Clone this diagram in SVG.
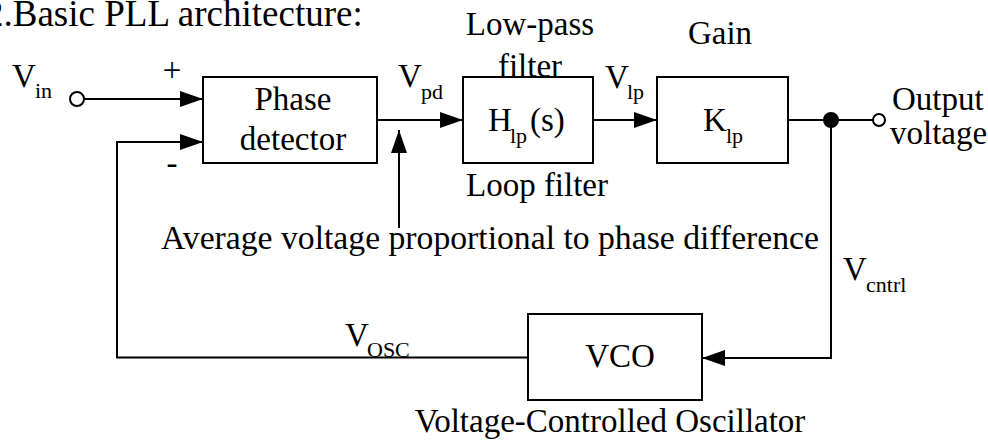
<svg xmlns="http://www.w3.org/2000/svg" width="988" height="442" viewBox="0 0 988 442">
<defs>
<style>
text{font-family:"Liberation Serif","Times New Roman",serif;fill:#000;}
.t{font-size:33px;}
.s{font-size:22px;}
.title{font-size:37px;}
.box{fill:#fff;stroke:#000;stroke-width:2;}
.wire{fill:none;stroke:#000;stroke-width:2;}
.mid{text-anchor:middle;}
</style>
<marker id="arr" markerUnits="userSpaceOnUse" markerWidth="24" markerHeight="16" refX="23" refY="8" orient="auto">
<path d="M0,0 L23,8 L0,16 Z" fill="#000"/>
</marker>
</defs>
<rect x="0" y="0" width="988" height="442" fill="#fff"/>
<g font-family="Liberation Serif, serif">
<text class="title" x="-15" y="26">2.Basic PLL architecture:</text>

<g id="connectors">
<line class="wire" x1="84" y1="99" x2="203" y2="99" marker-end="url(#arr)"/>
<path class="wire" d="M528,357.5 L117,357.5 L117,142 L203,142" marker-end="url(#arr)"/>
<line class="wire" x1="377" y1="120" x2="463" y2="120" marker-end="url(#arr)"/>
<line class="wire" x1="399" y1="228" x2="399" y2="130" marker-end="url(#arr)"/>
<line class="wire" x1="593" y1="120" x2="657" y2="120" marker-end="url(#arr)"/>
<line class="wire" x1="788" y1="120" x2="873" y2="120"/>
<path class="wire" d="M831,120 L831,358 L702,358" marker-end="url(#arr)"/>
<circle cx="831" cy="120" r="8" fill="#000"/>
</g>

<g id="input">
<circle cx="77" cy="99" r="7" fill="#fff" stroke="#000" stroke-width="2"/>
<text class="t" x="12" y="87">V</text><text class="s" x="35" y="98">in</text>
<text class="t mid" x="172" y="81">+</text>
<text class="t mid" x="172" y="174">-</text>
</g>

<g id="phase-detector">
<rect class="box" x="203" y="77" width="174" height="86"/>
<text class="t mid" x="293" y="110">Phase</text>
<text class="t mid" x="293" y="150">detector</text>
</g>

<g id="vpd-label">
<text class="t" x="398" y="87">V</text><text class="s" x="421" y="99">pd</text>
</g>

<g id="avg-label">
<text class="t" x="161" y="249" textLength="658" lengthAdjust="spacingAndGlyphs">Average voltage proportional to phase difference</text>
</g>

<g id="loop-filter">
<rect class="box" x="463" y="77" width="130" height="86"/>
<text class="t mid" x="530" y="35">Low-pass</text>
<text class="t mid" x="530" y="77">filter</text>
<text class="t" x="488" y="131">H</text><text class="s" x="510" y="143">lp</text><text class="t" x="530" y="131">(s)</text>
<text class="t mid" x="537" y="196">Loop filter</text>
</g>

<g id="vlp-label">
<text class="t" x="605" y="88">V</text><text class="s" x="627" y="99">lp</text>
</g>

<g id="gain">
<rect class="box" x="657" y="77" width="131" height="86"/>
<text class="t mid" x="720" y="44">Gain</text>
<text class="t" x="703" y="131">K</text><text class="s" x="726" y="143">lp</text>
</g>

<g id="output">
<circle cx="879" cy="120" r="6" fill="#fff" stroke="#000" stroke-width="2"/>
<text class="t" x="892" y="110">Output</text>
<text class="t" x="890" y="144">voltage</text>
</g>

<g id="vcntrl-label">
<text class="t" x="843" y="280">V</text><text class="s" x="866" y="292">cntrl</text>
</g>

<g id="vco">
<rect class="box" x="528" y="314" width="174" height="86"/>
<text class="t mid" x="620" y="367">VCO</text>
<text class="t mid" x="610" y="432">Voltage-Controlled Oscillator</text>
</g>

<g id="vosc-label">
<text class="t" x="345" y="346">V</text><text class="s" x="367" y="357">OSC</text>
</g>
</g>
</svg>
